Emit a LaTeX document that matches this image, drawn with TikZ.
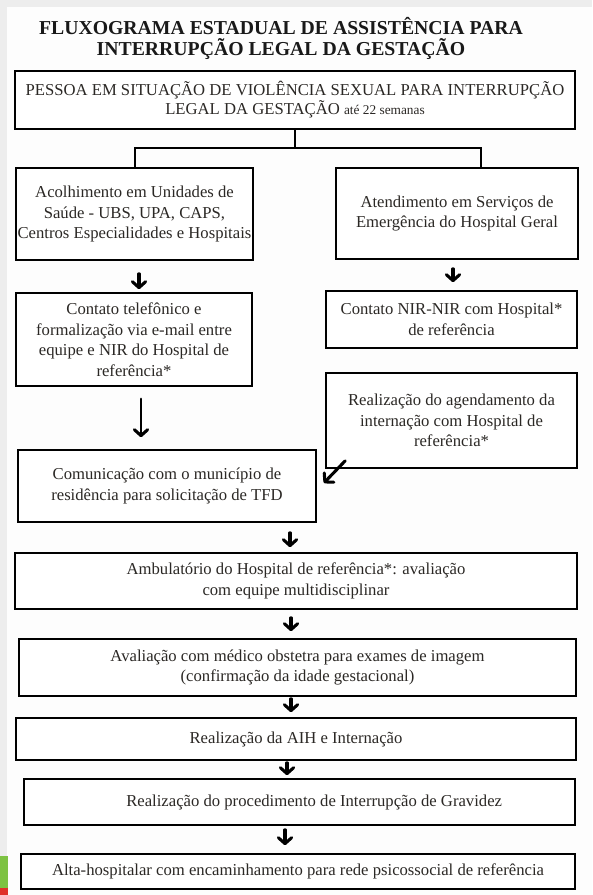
\documentclass[tikz,border=0pt]{standalone}
\usepackage{fontspec}
\setmainfont{Liberation Serif}
\usetikzlibrary{arrows.meta,calc}

\definecolor{texto}{HTML}{2B2825}
\definecolor{fundo}{HTML}{FDFDFD}
\definecolor{moldura}{HTML}{EDEDED}
\definecolor{verde}{HTML}{7DC242}
\definecolor{vermelho}{HTML}{E0302A}

\tikzset{every picture/.style={line width=0.75pt}}

\begin{document}
\begin{tikzpicture}[x=0.75pt,y=0.75pt,yscale=-1,xscale=1,
	caixa/.style={draw=black, line width=1.25pt, fill=white, inner sep=0pt, align=center, text=texto, font=\fontsize{12.5}{15.4}\selectfont},
	titulo/.style={align=center, text=black!90, font=\bfseries\fontsize{14.8}{15.75}\selectfont},
	ramo/.style={draw=black, line width=0.9pt},
	seta/.style={draw=black, line width=2.3pt, line cap=round, -{Straight Barb[length=4.5pt,width=10pt,line width=2.3pt,round]}}]
	\useasboundingbox (0,0) rectangle (592,895);

	%Shape: Rectangle (page)
	\fill[moldura] (0,0) rectangle (592,895);
	\fill[fundo] (7,7) rectangle (592,895);
	\fill[verde] (0,856) rectangle (8,888);
	\fill[vermelho] (0,888) rectangle (8,895);

	% Text Node
	\node[titulo] (titulo) at (281,38) {FLUXOGRAMA ESTADUAL DE ASSISTÊNCIA PARA\\INTERRUPÇÃO LEGAL DA GESTAÇÃO};

	%Shape: Rectangle
	\node[caixa, minimum width=420pt, minimum height=43.5pt, font=\fontsize{12.5}{14.3}\selectfont] (pessoa) at (295,100) {PESSOA EM SITUAÇÃO DE VIOLÊNCIA SEXUAL PARA INTERRUPÇÃO\\LEGAL DA GESTAÇÃO {\fontsize{10}{10}\selectfont até 22 semanas}};
	%Shape: Rectangle
	\node[caixa, minimum width=177.75pt, minimum height=69pt] (acolhimento) at (134.5,214) {Acolhimento em Unidades de\\Saúde - UBS, UPA, CAPS,\\Centros Especialidades e Hospitais};
	%Shape: Rectangle
	\node[caixa, minimum width=181.5pt, minimum height=68.25pt] (atendimento) at (457,213.5) {Atendimento em Serviços de\\Emergência do Hospital Geral};
	%Shape: Rectangle
	\node[caixa, minimum width=177pt, minimum height=69.75pt] (telefone) at (134,339.5) {Contato telefônico e\\formalização via e-mail entre\\equipe e NIR do Hospital de\\referência*};
	%Shape: Rectangle
	\node[caixa, minimum width=188.25pt, minimum height=42.75pt] (nir) at (451.5,319.5) {Contato NIR-NIR com Hospital*\\de referência};
	%Shape: Rectangle
	\node[caixa, minimum width=188.25pt, minimum height=71.25pt] (agendamento) at (451.5,420.5) {Realização do agendamento da\\internação com Hospital de\\referência*};
	%Shape: Rectangle
	\node[caixa, minimum width=223.5pt, minimum height=54pt] (comunicacao) at (167,486) {Comunicação com o município de\\residência para solicitação de TFD};
	%Shape: Rectangle
	\node[caixa, minimum width=421.5pt, minimum height=42pt] (ambulatorio) at (296,581) {Ambulatório do Hospital de referência*: avaliação\\com equipe multidisciplinar};
	%Shape: Rectangle
	\node[caixa, minimum width=417.75pt, minimum height=42.75pt] (avaliacao) at (297.5,667.5) {Avaliação com médico obstetra para exames de imagem\\(confirmação da idade gestacional)};
	%Shape: Rectangle
	\node[caixa, minimum width=420pt, minimum height=31.5pt] (aih) at (296,739) {Realização da AIH e Internação};
	%Shape: Rectangle
	\node[caixa, minimum width=413.25pt, minimum height=34.5pt] (procedimento) at (299.5,802) {\hspace*{22pt}Realização do procedimento de Interrupção de Gravidez};
	%Shape: Rectangle
	\node[caixa, minimum width=415.5pt, minimum height=26.25pt] (alta) at (298,871.5) {Alta-hospitalar com encaminhamento para rede psicossocial de referência};

	%Straight Lines
	\coordinate (ramoE) at (135,148);
	\coordinate (ramoD) at (481,148);
	\draw[ramo] (pessoa.south) -- (pessoa.south |- ramoE);
	\draw[ramo] (ramoE |- acolhimento.north) -- (ramoE) -- (ramoD) -- (ramoD |- atendimento.north);

	%Straight Lines
	\draw[seta] ($(acolhimento.south)+(4.5,13)$) -- ($(telefone.north)+(5,-3)$);
	\draw[seta] ($(atendimento.south)+(-4,9)$) -- ($(nir.north)+(1.5,-8)$);
	\draw[seta, line width=1.9pt] ($(telefone.south)+(7,12)$) -- ($(comunicacao.north)+(-26,-12)$);
	\draw[seta] ($(agendamento.south west)+(20,-8)$) -- ($(comunicacao.east)+(7,-3)$);
	\draw[seta] ($(comunicacao.south)+(123,10)$) -- ($(ambulatorio.north)+(-6,-5)$);
	\draw[seta] ($(ambulatorio.south)+(-5,8)$) -- ($(avaliacao.north)+(-6.5,-7)$);
	\draw[seta] ($(avaliacao.south)+(-6.5,2)$) -- ($(aih.north)+(-5,-5)$);
	\draw[seta] ($(aih.south)+(-9,2)$) -- ($(procedimento.north)+(-12.5,-3)$);
	\draw[seta] ($(procedimento.south)+(-14.5,4)$) -- ($(alta.north)+(-13,-8)$);

\end{tikzpicture}
\end{document}
